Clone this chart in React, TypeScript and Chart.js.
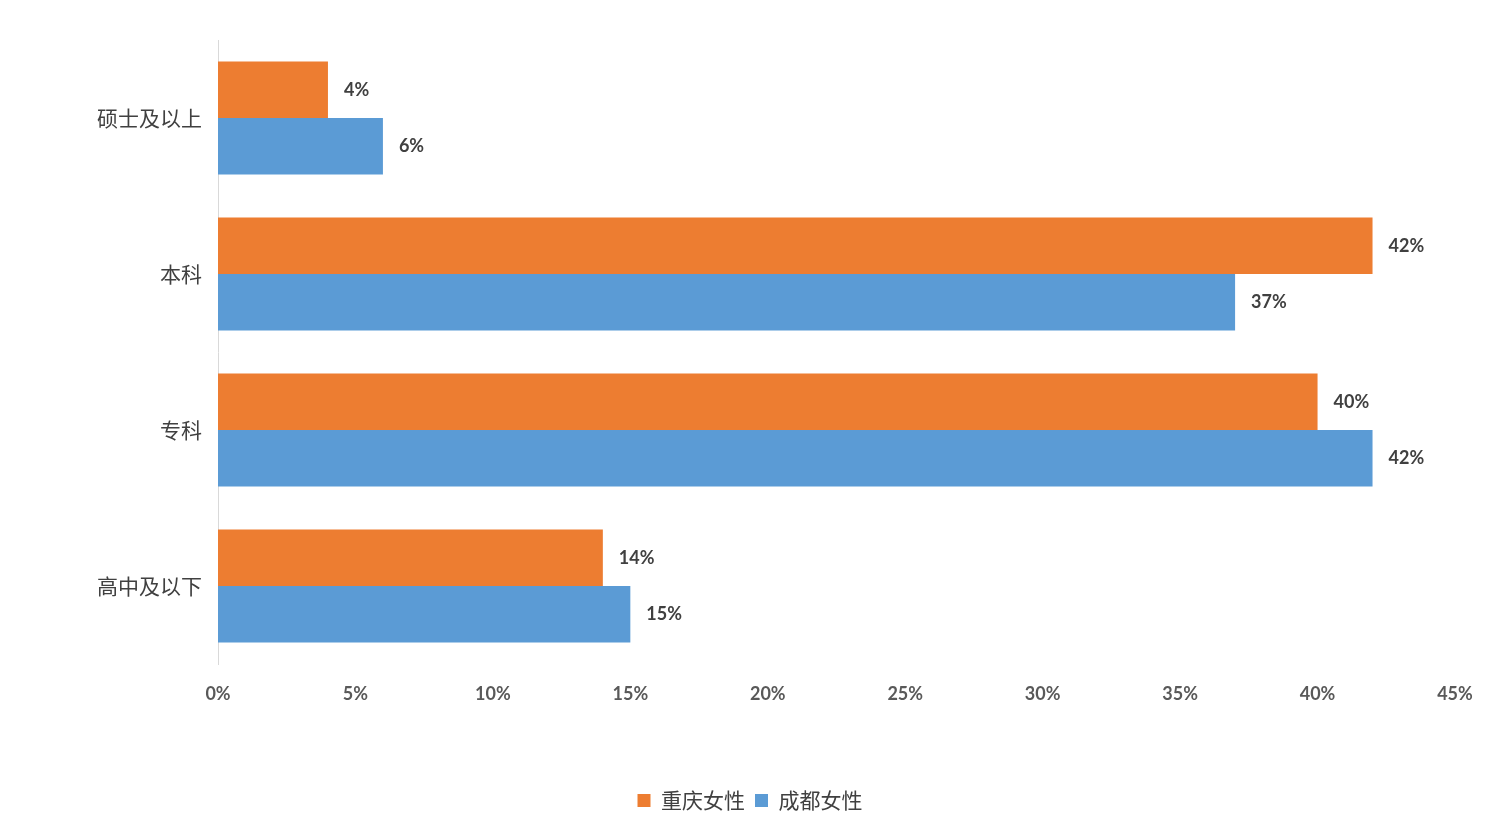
import React, { useEffect, useRef } from "react";
import { Chart, registerables } from "chart.js";

Chart.register(...registerables);

const categories = ["硕士及以上", "本科", "专科", "高中及以下"];
const chongqing = [4, 42, 40, 14];
const chengdu = [6, 37, 42, 15];
const seriesNames = ["重庆女性", "成都女性"];
const xTicks = [0, 5, 10, 15, 20, 25, 30, 35, 40, 45];

const labelPlugin = {
  id: "barLabels",
  afterDatasetsDraw(chart: any) {
    const ctx = chart.ctx;
    ctx.save();
    ctx.font = "bold 18px Lato, 'Open Sans', sans-serif";
    ctx.fillStyle = "#404040";
    ctx.textAlign = "left";
    ctx.textBaseline = "middle";
    chart.data.datasets.forEach((ds: any, i: number) => {
      const meta = chart.getDatasetMeta(i);
      meta.data.forEach((el: any, j: number) => {
        ctx.fillText(ds.data[j] + "%", el.x + 16, el.y);
      });
    });
    ctx.restore();
  },
};

export default function App() {
  const ref = useRef<HTMLCanvasElement>(null);
  useEffect(() => {
    document.body.style.margin = "0";
    const chart = new Chart(ref.current!, {
      type: "bar",
      data: {
        labels: categories,
        datasets: [
          {
            label: seriesNames[0],
            data: chongqing,
            backgroundColor: "#ED7D31",
            categoryPercentage: 0.725,
            barPercentage: 1,
          },
          {
            label: seriesNames[1],
            data: chengdu,
            backgroundColor: "#5B9BD5",
            categoryPercentage: 0.725,
            barPercentage: 1,
          },
        ],
      },
      options: {
        indexAxis: "y",
        animation: false,
        responsive: false,
        maintainAspectRatio: false,
        layout: { padding: { top: 40, right: 45, bottom: 16, left: 45 } },
        scales: {
          x: {
            min: 0,
            max: 45,
            afterFit: (s: any) => {
              s.height = 116;
            },
            afterBuildTicks: (s: any) => {
              s.ticks = xTicks.map((v) => ({ value: v }));
            },
            grid: { display: false },
            border: { display: false },
            ticks: {
              padding: 11,
              color: "#595959",
              font: { size: 18, weight: "bold", family: "Lato, 'Open Sans', sans-serif" },
              callback: (v: any) => v + "%",
            },
          },
          y: {
            afterFit: (s: any) => {
              s.width = 173;
            },
            grid: { display: false },
            border: { display: true, color: "#d9d9d9", width: 1 },
            ticks: {
              padding: 8,
              color: "#404040",
              font: { size: 21, family: "'Noto Sans CJK SC', sans-serif" },
            },
          },
        },
        plugins: {
          legend: {
            position: "bottom",
            labels: {
              boxWidth: 13,
              boxHeight: 13,
              padding: 10,
              color: "#404040",
              font: { size: 21, family: "'Noto Sans CJK SC', sans-serif" },
            },
          },
          tooltip: { enabled: false },
        },
      },
      plugins: [labelPlugin],
    } as any);
    return () => chart.destroy();
  }, []);
  return (
    <div style={{ position: "absolute", left: 0, top: 0, width: 1500, height: 837, background: "#fff" }}>
      <canvas ref={ref} width={1500} height={837} />
    </div>
  );
}
